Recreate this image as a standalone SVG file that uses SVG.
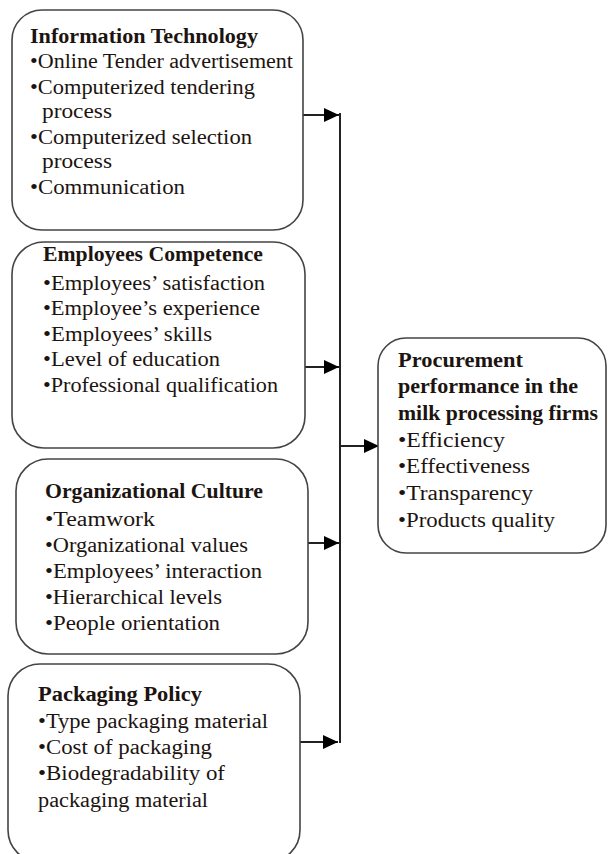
<svg xmlns="http://www.w3.org/2000/svg" width="608" height="854" viewBox="0 0 608 854">
<style>
.box{fill:#fff;stroke:#444;stroke-width:1.6}
text{font-family:"Liberation Serif","Times New Roman",serif;font-size:20px;fill:#1c1410}
.t{font-weight:bold}
.c{stroke:#222;stroke-width:2;fill:none}
</style>
<defs>
<marker id="ah" markerUnits="userSpaceOnUse" markerWidth="16" markerHeight="14" refX="15" refY="7" orient="auto">
<path d="M0,0 L15,7 L0,14 z" fill="#000"/>
</marker>
</defs>
<rect width="608" height="854" fill="#fff"/>

<g id="connectors">
<line class="c" x1="340" y1="113" x2="340" y2="743"/>
<line class="c" x1="303" y1="115" x2="339" y2="115" marker-end="url(#ah)"/>
<line class="c" x1="305" y1="367" x2="339" y2="367" marker-end="url(#ah)"/>
<line class="c" x1="308" y1="543" x2="339" y2="543" marker-end="url(#ah)"/>
<line class="c" x1="299" y1="742" x2="338" y2="742" marker-end="url(#ah)"/>
<line class="c" x1="340" y1="446" x2="379" y2="446" marker-end="url(#ah)"/>
</g>

<g id="it">
<rect class="box" x="12" y="10" width="291" height="220" rx="30"/>
<text class="t" x="30" y="43" textLength="228" lengthAdjust="spacingAndGlyphs">Information Technology</text>
<text x="30" y="68" textLength="263" lengthAdjust="spacingAndGlyphs">•Online Tender advertisement</text>
<text x="30" y="94" textLength="225" lengthAdjust="spacingAndGlyphs">•Computerized tendering</text>
<text x="42" y="118" textLength="70" lengthAdjust="spacingAndGlyphs">process</text>
<text x="30" y="144" textLength="222" lengthAdjust="spacingAndGlyphs">•Computerized selection</text>
<text x="42" y="168" textLength="70" lengthAdjust="spacingAndGlyphs">process</text>
<text x="30" y="194" textLength="155" lengthAdjust="spacingAndGlyphs">•Communication</text>
</g>

<g id="ec">
<rect class="box" x="12" y="242" width="293" height="206" rx="32"/>
<text class="t" x="43" y="261" textLength="220" lengthAdjust="spacingAndGlyphs">Employees Competence</text>
<text x="43" y="290" textLength="222" lengthAdjust="spacingAndGlyphs">•Employees’ satisfaction</text>
<text x="43" y="315" textLength="217" lengthAdjust="spacingAndGlyphs">•Employee’s experience</text>
<text x="43" y="341" textLength="169" lengthAdjust="spacingAndGlyphs">•Employees’ skills</text>
<text x="43" y="366" textLength="177" lengthAdjust="spacingAndGlyphs">•Level of education</text>
<text x="43" y="392" textLength="235" lengthAdjust="spacingAndGlyphs">•Professional qualification</text>
</g>

<g id="oc">
<rect class="box" x="16" y="459" width="292" height="195" rx="32"/>
<text class="t" x="45" y="498" textLength="218" lengthAdjust="spacingAndGlyphs">Organizational Culture</text>
<text x="45" y="526" textLength="110" lengthAdjust="spacingAndGlyphs">•Teamwork</text>
<text x="45" y="552" textLength="203" lengthAdjust="spacingAndGlyphs">•Organizational values</text>
<text x="45" y="578" textLength="217" lengthAdjust="spacingAndGlyphs">•Employees’ interaction</text>
<text x="45" y="604" textLength="177" lengthAdjust="spacingAndGlyphs">•Hierarchical levels</text>
<text x="45" y="630" textLength="175" lengthAdjust="spacingAndGlyphs">•People orientation</text>
</g>

<g id="pp">
<rect class="box" x="8" y="664" width="292" height="198" rx="32"/>
<text class="t" x="38" y="701" textLength="164" lengthAdjust="spacingAndGlyphs">Packaging Policy</text>
<text x="38" y="728" textLength="230" lengthAdjust="spacingAndGlyphs">•Type packaging material</text>
<text x="38" y="754" textLength="174" lengthAdjust="spacingAndGlyphs">•Cost of packaging</text>
<text x="38" y="780" textLength="187" lengthAdjust="spacingAndGlyphs">•Biodegradability of</text>
<text x="38" y="807" textLength="170" lengthAdjust="spacingAndGlyphs">packaging material</text>
</g>

<g id="perf">
<rect class="box" x="378" y="338" width="228" height="215" rx="28"/>
<text class="t" x="398" y="367" textLength="125" lengthAdjust="spacingAndGlyphs">Procurement</text>
<text class="t" x="398" y="393" textLength="180" lengthAdjust="spacingAndGlyphs">performance in the</text>
<text class="t" x="398" y="420" textLength="200" lengthAdjust="spacingAndGlyphs">milk processing firms</text>
<text x="398" y="447" textLength="107" lengthAdjust="spacingAndGlyphs">•Efficiency</text>
<text x="398" y="473" textLength="132" lengthAdjust="spacingAndGlyphs">•Effectiveness</text>
<text x="398" y="500" textLength="135" lengthAdjust="spacingAndGlyphs">•Transparency</text>
<text x="398" y="527" textLength="157" lengthAdjust="spacingAndGlyphs">•Products quality</text>
</g>
</svg>
